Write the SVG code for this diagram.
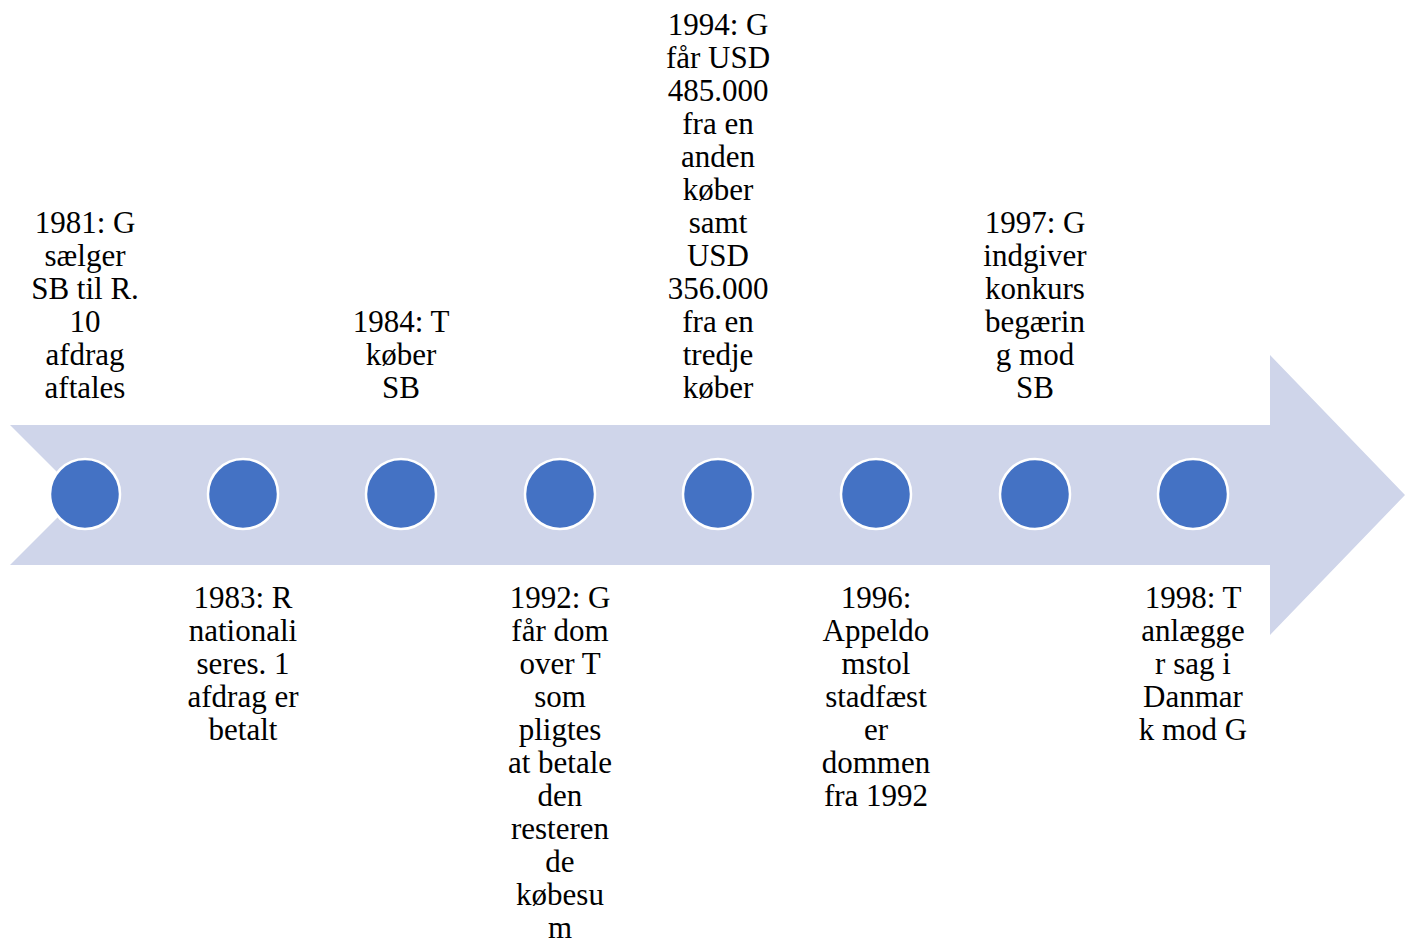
<svg xmlns="http://www.w3.org/2000/svg" width="1405" height="942" viewBox="0 0 1405 942">
<style>
.t{font-family:"Liberation Serif","Times New Roman",serif;font-size:31px;fill:#000;text-anchor:middle}
.dot{fill:#4472C4;stroke:#FFFFFF;stroke-width:2.5}
</style>
<rect width="1405" height="942" fill="#FFFFFF"/>
<g id="arrow"><path d="M10,425 L1270,425 L1270,355 L1405,495 L1270,635 L1270,565 L10,565 L80,495 Z" fill="#CFD5EA"/></g>
<g id="connectors"></g>
<g id="n1981"><circle class="dot" cx="85" cy="494" r="35"/>
<text class="t" x="85" y="233">1981: G</text><text class="t" x="85" y="266">sælger</text><text class="t" x="85" y="299">SB til R.</text><text class="t" x="85" y="332">10</text><text class="t" x="85" y="365">afdrag</text><text class="t" x="85" y="398">aftales</text></g>
<g id="n1983"><circle class="dot" cx="243" cy="494" r="35"/>
<text class="t" x="243" y="608">1983: R</text><text class="t" x="243" y="641">nationali</text><text class="t" x="243" y="674">seres. 1</text><text class="t" x="243" y="707">afdrag er</text><text class="t" x="243" y="740">betalt</text></g>
<g id="n1984"><circle class="dot" cx="401" cy="494" r="35"/>
<text class="t" x="401" y="332">1984: T</text><text class="t" x="401" y="365">køber</text><text class="t" x="401" y="398">SB</text></g>
<g id="n1992"><circle class="dot" cx="560" cy="494" r="35"/>
<text class="t" x="560" y="608">1992: G</text><text class="t" x="560" y="641">får dom</text><text class="t" x="560" y="674">over T</text><text class="t" x="560" y="707">som</text><text class="t" x="560" y="740">pligtes</text><text class="t" x="560" y="773">at betale</text><text class="t" x="560" y="806">den</text><text class="t" x="560" y="839">resteren</text><text class="t" x="560" y="872">de</text><text class="t" x="560" y="905">købesu</text><text class="t" x="560" y="938">m</text></g>
<g id="n1994"><circle class="dot" cx="718" cy="494" r="35"/>
<text class="t" x="718" y="35">1994: G</text><text class="t" x="718" y="68">får USD</text><text class="t" x="718" y="101">485.000</text><text class="t" x="718" y="134">fra en</text><text class="t" x="718" y="167">anden</text><text class="t" x="718" y="200">køber</text><text class="t" x="718" y="233">samt</text><text class="t" x="718" y="266">USD</text><text class="t" x="718" y="299">356.000</text><text class="t" x="718" y="332">fra en</text><text class="t" x="718" y="365">tredje</text><text class="t" x="718" y="398">køber</text></g>
<g id="n1996"><circle class="dot" cx="876" cy="494" r="35"/>
<text class="t" x="876" y="608">1996:</text><text class="t" x="876" y="641">Appeldo</text><text class="t" x="876" y="674">mstol</text><text class="t" x="876" y="707">stadfæst</text><text class="t" x="876" y="740">er</text><text class="t" x="876" y="773">dommen</text><text class="t" x="876" y="806">fra 1992</text></g>
<g id="n1997"><circle class="dot" cx="1035" cy="494" r="35"/>
<text class="t" x="1035" y="233">1997: G</text><text class="t" x="1035" y="266">indgiver</text><text class="t" x="1035" y="299">konkurs</text><text class="t" x="1035" y="332">begærin</text><text class="t" x="1035" y="365">g mod</text><text class="t" x="1035" y="398">SB</text></g>
<g id="n1998"><circle class="dot" cx="1193" cy="494" r="35"/>
<text class="t" x="1193" y="608">1998: T</text><text class="t" x="1193" y="641">anlægge</text><text class="t" x="1193" y="674">r sag i</text><text class="t" x="1193" y="707">Danmar</text><text class="t" x="1193" y="740">k mod G</text></g>
</svg>
